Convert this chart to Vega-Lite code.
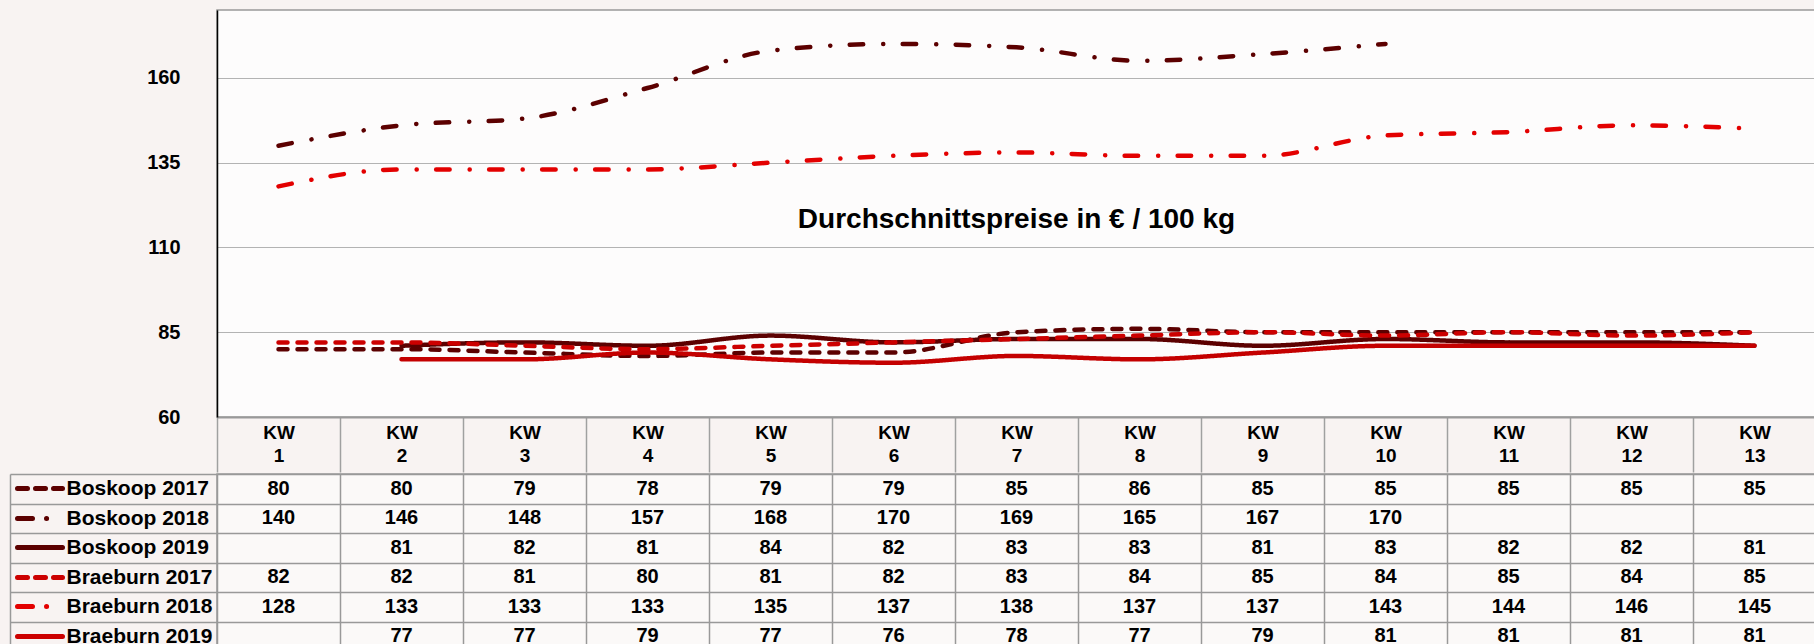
{
  "$schema": "https://vega.github.io/schema/vega-lite/v6.json",
  "background": "#f8f3f2",
  "padding": {"left": 8, "top": 9, "right": 0, "bottom": 0},
  "spacing": -14,
  "config": {"font": "Liberation Sans"},
  "datasets": {
    "prices": [
      {"series": "Boskoop 2017", "kw": 1, "price": 80}, {"series": "Boskoop 2017", "kw": 2, "price": 80}, {"series": "Boskoop 2017", "kw": 3, "price": 79}, {"series": "Boskoop 2017", "kw": 4, "price": 78}, {"series": "Boskoop 2017", "kw": 5, "price": 79}, {"series": "Boskoop 2017", "kw": 6, "price": 79}, {"series": "Boskoop 2017", "kw": 7, "price": 85}, {"series": "Boskoop 2017", "kw": 8, "price": 86}, {"series": "Boskoop 2017", "kw": 9, "price": 85}, {"series": "Boskoop 2017", "kw": 10, "price": 85}, {"series": "Boskoop 2017", "kw": 11, "price": 85}, {"series": "Boskoop 2017", "kw": 12, "price": 85}, {"series": "Boskoop 2017", "kw": 13, "price": 85},
      {"series": "Boskoop 2018", "kw": 1, "price": 140}, {"series": "Boskoop 2018", "kw": 2, "price": 146}, {"series": "Boskoop 2018", "kw": 3, "price": 148}, {"series": "Boskoop 2018", "kw": 4, "price": 157}, {"series": "Boskoop 2018", "kw": 5, "price": 168}, {"series": "Boskoop 2018", "kw": 6, "price": 170}, {"series": "Boskoop 2018", "kw": 7, "price": 169}, {"series": "Boskoop 2018", "kw": 8, "price": 165}, {"series": "Boskoop 2018", "kw": 9, "price": 167}, {"series": "Boskoop 2018", "kw": 10, "price": 170},
      {"series": "Boskoop 2019", "kw": 2, "price": 81}, {"series": "Boskoop 2019", "kw": 3, "price": 82}, {"series": "Boskoop 2019", "kw": 4, "price": 81}, {"series": "Boskoop 2019", "kw": 5, "price": 84}, {"series": "Boskoop 2019", "kw": 6, "price": 82}, {"series": "Boskoop 2019", "kw": 7, "price": 83}, {"series": "Boskoop 2019", "kw": 8, "price": 83}, {"series": "Boskoop 2019", "kw": 9, "price": 81}, {"series": "Boskoop 2019", "kw": 10, "price": 83}, {"series": "Boskoop 2019", "kw": 11, "price": 82}, {"series": "Boskoop 2019", "kw": 12, "price": 82}, {"series": "Boskoop 2019", "kw": 13, "price": 81},
      {"series": "Braeburn 2017", "kw": 1, "price": 82}, {"series": "Braeburn 2017", "kw": 2, "price": 82}, {"series": "Braeburn 2017", "kw": 3, "price": 81}, {"series": "Braeburn 2017", "kw": 4, "price": 80}, {"series": "Braeburn 2017", "kw": 5, "price": 81}, {"series": "Braeburn 2017", "kw": 6, "price": 82}, {"series": "Braeburn 2017", "kw": 7, "price": 83}, {"series": "Braeburn 2017", "kw": 8, "price": 84}, {"series": "Braeburn 2017", "kw": 9, "price": 85}, {"series": "Braeburn 2017", "kw": 10, "price": 84}, {"series": "Braeburn 2017", "kw": 11, "price": 85}, {"series": "Braeburn 2017", "kw": 12, "price": 84}, {"series": "Braeburn 2017", "kw": 13, "price": 85},
      {"series": "Braeburn 2018", "kw": 1, "price": 128}, {"series": "Braeburn 2018", "kw": 2, "price": 133}, {"series": "Braeburn 2018", "kw": 3, "price": 133}, {"series": "Braeburn 2018", "kw": 4, "price": 133}, {"series": "Braeburn 2018", "kw": 5, "price": 135}, {"series": "Braeburn 2018", "kw": 6, "price": 137}, {"series": "Braeburn 2018", "kw": 7, "price": 138}, {"series": "Braeburn 2018", "kw": 8, "price": 137}, {"series": "Braeburn 2018", "kw": 9, "price": 137}, {"series": "Braeburn 2018", "kw": 10, "price": 143}, {"series": "Braeburn 2018", "kw": 11, "price": 144}, {"series": "Braeburn 2018", "kw": 12, "price": 146}, {"series": "Braeburn 2018", "kw": 13, "price": 145},
      {"series": "Braeburn 2019", "kw": 2, "price": 77}, {"series": "Braeburn 2019", "kw": 3, "price": 77}, {"series": "Braeburn 2019", "kw": 4, "price": 79}, {"series": "Braeburn 2019", "kw": 5, "price": 77}, {"series": "Braeburn 2019", "kw": 6, "price": 76}, {"series": "Braeburn 2019", "kw": 7, "price": 78}, {"series": "Braeburn 2019", "kw": 8, "price": 77}, {"series": "Braeburn 2019", "kw": 9, "price": 79}, {"series": "Braeburn 2019", "kw": 10, "price": 81}, {"series": "Braeburn 2019", "kw": 11, "price": 81}, {"series": "Braeburn 2019", "kw": 12, "price": 81}, {"series": "Braeburn 2019", "kw": 13, "price": 81}
    ]
  },
  "vconcat": [
    {
      "width": 1599,
      "height": 407,
      "view": {"fill": "#fdfcfc", "stroke": "#999999", "strokeWidth": 1.5},
      "layer": [
        {
          "data": {"name": "prices"},
          "mark": {"type": "line", "interpolate": "monotone", "strokeWidth": 4.5, "strokeCap": "round"},
          "encoding": {
            "x": {
              "field": "kw", "type": "ordinal",
              "scale": {"type": "band", "paddingInner": 0, "paddingOuter": 0},
              "axis": {
                "orient": "bottom", "title": null, "labelAngle": 0,
                "labelExpr": "datum.label ? ['KW', datum.label] : ''",
                "labelFontSize": 19, "labelFontWeight": "bold", "labelColor": "#000000",
                "labelBaseline": "top", "labelLineHeight": 23, "labelPadding": -49,
                "tickBand": "extent", "tickSize": 55, "tickColor": "#a0a0a0", "tickWidth": 1.5,
                "domainColor": "#999999", "domainWidth": 2, "grid": false
              }
            },
            "y": {
              "field": "price", "type": "quantitative",
              "scale": {"domain": [60, 180], "nice": false, "zero": false},
              "axis": {
                "values": [60, 85, 110, 135, 160], "title": null,
                "labelFontSize": 20, "labelFontWeight": "bold", "labelColor": "#000000",
                "labelPadding": 37, "ticks": false,
                "domainColor": "#000000", "domainWidth": 1.5,
                "grid": true, "gridColor": "#b3b3b3", "gridWidth": 1.2
              }
            },
            "color": {
              "field": "series", "type": "nominal",
              "scale": {
                "domain": ["Boskoop 2017", "Boskoop 2018", "Boskoop 2019", "Braeburn 2017", "Braeburn 2018", "Braeburn 2019"],
                "range": ["#5c0000", "#5c0000", "#5c0000", "#cc0000", "#e30000", "#c40000"]
              },
              "legend": null
            },
            "strokeDash": {
              "field": "series", "type": "nominal",
              "scale": {
                "domain": ["Boskoop 2017", "Boskoop 2018", "Boskoop 2019", "Braeburn 2017", "Braeburn 2018", "Braeburn 2019"],
                "range": [[9, 10], [13.5, 20, 0.1, 19.4], [1, 0], [9, 10], [13.5, 20, 0.1, 19.4], [1, 0]]
              },
              "legend": null
            }
          }
        },
        {
          "data": {"values": [{}]},
          "mark": {"type": "text", "fontSize": 28, "fontWeight": "bold", "color": "#000000", "baseline": "middle", "align": "center"},
          "encoding": {
            "x": {"datum": 7, "type": "ordinal"},
            "y": {"datum": 118, "type": "quantitative"},
            "text": {"value": "Durchschnittspreise in € / 100 kg"}
          }
        }
      ]
    },
    {
      "width": 1599,
      "height": 177,
      "data": {"name": "prices"},
      "view": {"fill": "#fbf9f8", "stroke": "#999999", "strokeWidth": 1.5},
      "layer": [
        {
          "mark": {"type": "text", "fontSize": 20, "fontWeight": "bold", "color": "#000000", "baseline": "middle"},
          "encoding": {
            "x": {
              "field": "kw", "type": "ordinal",
              "scale": {"type": "band", "paddingInner": 0, "paddingOuter": 0},
              "axis": {"orient": "bottom", "title": null, "labels": false, "ticks": false, "domain": false, "grid": true, "tickBand": "extent", "gridColor": "#999999", "gridWidth": 1.5}
            },
            "y": {
              "field": "series", "type": "nominal",
              "sort": ["Boskoop 2017", "Boskoop 2018", "Boskoop 2019", "Braeburn 2017", "Braeburn 2018", "Braeburn 2019"],
              "scale": {"type": "band", "paddingInner": 0, "paddingOuter": 0},
              "axis": {
                "orient": "left", "title": null, "domain": false,
                "tickBand": "extent", "tickSize": 207, "tickColor": "#999999", "tickWidth": 1.5,
                "grid": true, "gridColor": "#999999", "gridWidth": 1.5,
                "labelAlign": "left", "labelBaseline": "middle", "labelPadding": -56,
                "labelFontSize": 21, "labelFontWeight": "bold", "labelColor": "#000000"
              }
            },
            "text": {"field": "price", "type": "quantitative"}
          }
        },
        {
          "mark": {"type": "point", "opacity": 0},
          "encoding": {
            "y": {
              "field": "series", "type": "nominal",
              "sort": ["Boskoop 2017", "Boskoop 2018", "Boskoop 2019", "Braeburn 2017", "Braeburn 2018", "Braeburn 2019"],
              "axis": {
                "orient": "left", "title": null, "offset": 200, "domain": false, "labels": false, "grid": false,
                "ticks": true, "tickSize": -45, "tickWidth": 5, "tickCap": "round",
                "tickColor": {"expr": "indexof(datum.value, 'Boskoop') >= 0 ? '#5c0000' : (indexof(datum.value, '2018') >= 0 ? '#e30000' : '#cc0000')"},
                "tickDash": {"expr": "indexof(datum.value, '2017') >= 0 ? [10, 8] : (indexof(datum.value, '2018') >= 0 ? [15, 14, 0.1, 30] : [1, 0])"}
              }
            }
          }
        },
        {
          "mark": {"type": "point", "opacity": 0},
          "encoding": {
            "y": {
              "field": "series", "type": "nominal",
              "sort": ["Boskoop 2017", "Boskoop 2018", "Boskoop 2019", "Braeburn 2017", "Braeburn 2018", "Braeburn 2019"],
              "axis": {
                "orient": "left", "title": null, "offset": 207, "domain": true, "domainColor": "#999999", "domainWidth": 1.5,
                "labels": false, "grid": false, "ticks": false
              }
            }
          }
        }
      ],
      "resolve": {"axis": {"y": "independent"}}
    }
  ]
}
